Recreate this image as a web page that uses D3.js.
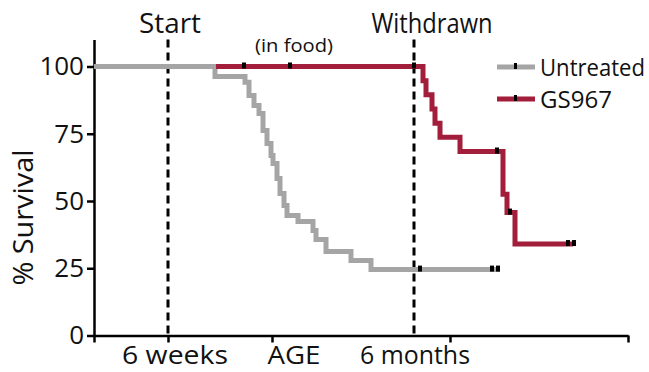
<!DOCTYPE html>
<html>
<head>
<meta charset="utf-8">
<script src="https://cdn.jsdelivr.net/npm/d3@7"></script>
<style>
  html, body { margin: 0; padding: 0; background: #fff; }
  svg text { font-family: "Open Sans", sans-serif; fill: #111; }
</style>
</head>
<body>
<svg id="chart" width="649" height="372"></svg>
<script>
// Kaplan–Meier survival by age (days on the age axis)
const untreatedTimes    = [0, 60.5, 75.5, 77.5, 80, 82.5, 84.5, 86.5, 88.5, 89.5, 91.5, 93, 95, 96.5, 102, 109.5, 111, 116, 128.5, 138.5, 203];
const untreatedSurvival = [100, 96.3, 94.1, 89.2, 85.5, 82.5, 76.2, 71.4, 66.9, 63.9, 58.4, 52.8, 48.3, 44.6, 42.4, 39.0, 35.7, 31.2, 27.9, 24.5, 24.5];
const untreatedCensored = [163, 199, 202];

const gs967Times    = [61, 164.5, 166, 169, 170.5, 173, 183, 204.5, 206.5, 210.5, 239.5];
const gs967Survival = [100, 94.7, 89.5, 84.2, 78.9, 73.7, 68.4, 52.5, 45.7, 34.0, 34.0];
const gs967Censored = [75, 98, 160, 201.5, 208, 237, 240];

const yTicks = [0, 25, 50, 75, 100];
const xTicks = [0, 37, 89, 178, 267];
const xLabels = ["6 weeks", "AGE", "6 months"];
const xLabelAges = [40.5, 100, 160.5];
const markerAges = [37, 160];
const markerLabels = ["Start", "Withdrawn"];
const seriesNames = ["Untreated", "GS967"];

const colors = { Untreated: "#a5a5a5", GS967: "#a21e3a" };

const svg = d3.select("#chart");
const x = d3.scaleLinear().domain([0, 267]).range([94, 628]);
const y = d3.scaleLinear().domain([0, 110]).range([335.5, 39.6]);

// set a label's width so the wide substitute face keeps the original proportions
function fitText(sel, width) {
  sel.attr("textLength", width).attr("lengthAdjust", "spacingAndGlyphs");
}

// reference lines for start and withdrawal of treatment
const markerWidths = [62, 121];
const markerShift = [2, 18];
markerAges.forEach((age, i) => {
  svg.append("line")
    .attr("x1", x(age)).attr("x2", x(age))
    .attr("y1", y(110)).attr("y2", y(0))
    .attr("stroke", "#000").attr("stroke-width", 3)
    .attr("stroke-dasharray", "8,5");
  svg.append("text")
    .attr("x", x(age) + markerShift[i]).attr("y", 33)
    .attr("text-anchor", "middle")
    .attr("font-size", 27)
    .text(markerLabels[i])
    .call(fitText, markerWidths[i]);
});
svg.append("text")
  .attr("x", 294).attr("y", 52)
  .attr("text-anchor", "middle")
  .attr("font-size", 18)
  .text("(in food)")
  .call(fitText, 78);

// axes
const yAxis = d3.axisLeft(y).tickValues(yTicks).tickSize(7).tickSizeOuter(0).tickPadding(3);
const gy = svg.append("g").attr("transform", `translate(${x(0)},0)`).call(yAxis);
gy.select(".domain").attr("stroke-width", 2.5);
gy.selectAll(".tick line").attr("stroke-width", 2.5);
gy.selectAll(".tick text").attr("font-size", 26).attr("font-family", "Open Sans").attr("fill", "#111");

const xAxis = d3.axisBottom(x).tickValues(xTicks).tickSize(7).tickSizeOuter(0).tickFormat("");
const gx = svg.append("g").attr("transform", `translate(0,${y(0)})`).call(xAxis);
gx.select(".domain").attr("stroke-width", 2.5);
gx.selectAll(".tick line").attr("stroke-width", 2.5);

const xLabelWidths = [106, 53, 110];
svg.selectAll(".xlab").data(xLabels).join("text")
  .attr("class", "xlab")
  .attr("x", (d, i) => x(xLabelAges[i]))
  .attr("y", 364)
  .attr("text-anchor", "middle")
  .attr("font-size", 25)
  .text(d => d)
  .each(function (d, i) { d3.select(this).call(fitText, xLabelWidths[i]); });

svg.append("text")
  .attr("transform", `translate(33,${(y(0) + y(110)) / 2 + 30}) rotate(-90)`)
  .attr("text-anchor", "middle")
  .attr("font-size", 27)
  .text("% Survival")
  .call(fitText, 136);

// survival curves
const line = d3.line().x(d => x(d[0])).y(d => y(d[1])).curve(d3.curveStepAfter);
function stepValue(times, surv, t) {
  let v = surv[0];
  for (let i = 0; i < times.length; i++) if (times[i] <= t) v = surv[i];
  return v;
}
const series = [
  { name: "Untreated", times: untreatedTimes, surv: untreatedSurvival, cens: untreatedCensored },
  { name: "GS967", times: gs967Times, surv: gs967Survival, cens: gs967Censored }
];
series.forEach(s => {
  svg.append("path")
    .datum(s.times.map((t, i) => [t, s.surv[i]]))
    .attr("fill", "none")
    .attr("stroke", colors[s.name])
    .attr("stroke-width", 5)
    .attr("d", line);
});
series.forEach(s => {
  svg.selectAll(null).data(s.cens).join("rect")
    .attr("x", d => x(d) - 2)
    .attr("y", d => y(stepValue(s.times, s.surv, d)) - 4)
    .attr("width", 4).attr("height", 6)
    .attr("fill", "#000");
});

// legend
const legendWidths = [105, 72];
seriesNames.forEach((name, i) => {
  const ly = 67 + i * 32;
  svg.append("line")
    .attr("x1", 497).attr("x2", 535).attr("y1", ly).attr("y2", ly)
    .attr("stroke", colors[name]).attr("stroke-width", 5);
  svg.append("rect").attr("x", 514).attr("y", ly - 4).attr("width", 3).attr("height", 6).attr("fill", "#000");
  svg.append("text")
    .attr("x", 540).attr("y", ly + 9)
    .attr("font-size", 23)
    .text(name)
    .call(fitText, legendWidths[i]);
});
</script>
</body>
</html>
